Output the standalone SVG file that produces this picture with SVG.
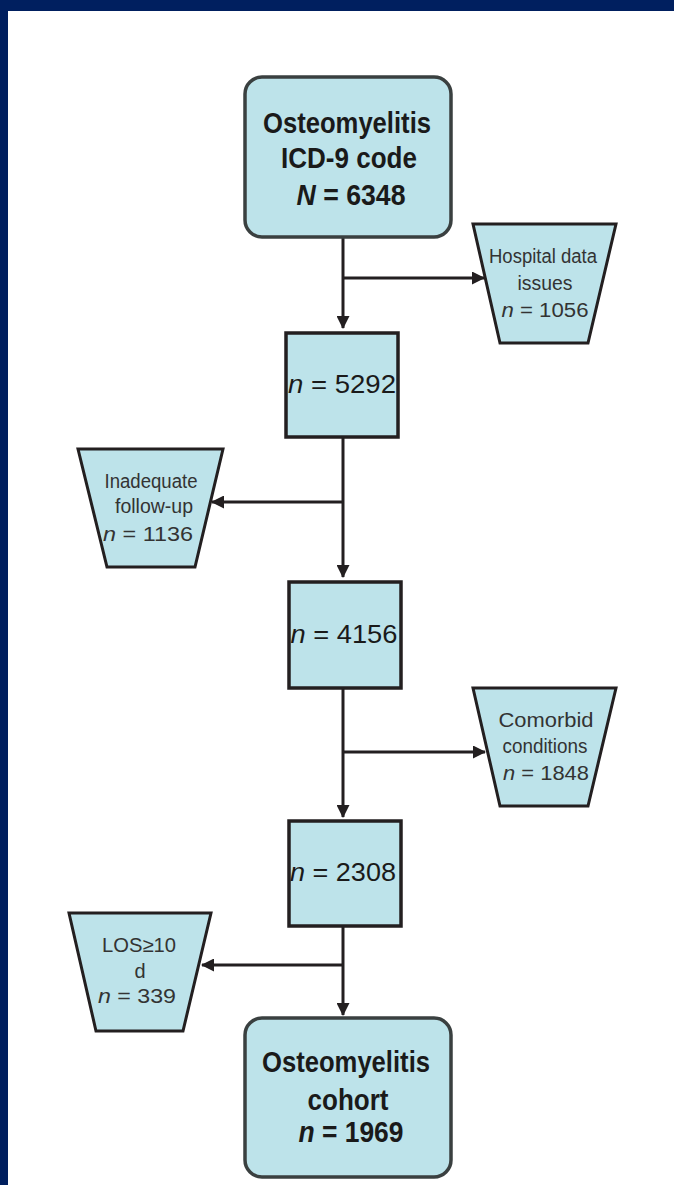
<svg xmlns="http://www.w3.org/2000/svg" width="674" height="1185" viewBox="0 0 674 1185">
<defs>
<marker id="arr" viewBox="0 0 13 13" refX="12" refY="6.5" markerWidth="13" markerHeight="13" markerUnits="userSpaceOnUse" orient="auto">
<path d="M0,0 L13,6.5 L0,13 Z" fill="#231f20"/>
</marker>
</defs>
<style>
.bg{fill:#ffffff}
.nav{fill:#001f5f}
.box{fill:#bde3ea;stroke:#231f20;stroke-width:3.5}
.rbox{fill:#bde3ea;stroke:#3a4040;stroke-width:3.5}
.trap{fill:#bde3ea;stroke:#231f20;stroke-width:3;stroke-linejoin:miter}
.ln{fill:none;stroke:#231f20;stroke-width:3}
.big{font-family:"Liberation Sans",Arial,sans-serif;font-size:29px;font-weight:bold;fill:#1a1a1a;text-anchor:middle}
.mid{font-family:"Liberation Sans",Arial,sans-serif;font-size:26px;fill:#1a1a1a;text-anchor:middle}
.sm{font-family:"Liberation Sans",Arial,sans-serif;font-size:20px;fill:#333333;text-anchor:middle}
.it{font-style:italic}
</style>
<rect class="bg" x="0" y="0" width="674" height="1185"/>
<rect class="nav" x="0" y="0" width="674" height="11"/>
<rect class="nav" x="0" y="0" width="8" height="1185"/>

<g id="connectors">
<line class="ln" x1="343" y1="237" x2="343" y2="328" marker-end="url(#arr)"/>
<line class="ln" x1="343" y1="278" x2="484" y2="278" marker-end="url(#arr)"/>
<line class="ln" x1="343" y1="437" x2="343" y2="577" marker-end="url(#arr)"/>
<line class="ln" x1="343" y1="502" x2="212" y2="502" marker-end="url(#arr)"/>
<line class="ln" x1="343" y1="688" x2="343" y2="817" marker-end="url(#arr)"/>
<line class="ln" x1="343" y1="752" x2="485" y2="752" marker-end="url(#arr)"/>
<line class="ln" x1="343" y1="926" x2="343" y2="1015" marker-end="url(#arr)"/>
<line class="ln" x1="343" y1="965" x2="202" y2="965" marker-end="url(#arr)"/>
</g>

<g id="node-start">
<rect class="rbox" x="245" y="77" width="206" height="160" rx="17" ry="17"/>
<text class="big" x="347" y="133" textLength="168" lengthAdjust="spacingAndGlyphs">Osteomyelitis</text>
<text class="big" x="349" y="168" textLength="136" lengthAdjust="spacingAndGlyphs">ICD-9 code</text>
<text class="big" x="351" y="205" textLength="109" lengthAdjust="spacingAndGlyphs"><tspan class="it">N</tspan> = 6348</text>
</g>

<g id="node-hospital">
<polygon class="trap" points="473,224 616,224 588,343 500,343"/>
<text class="sm" x="543" y="263" textLength="108" lengthAdjust="spacingAndGlyphs">Hospital data</text>
<text class="sm" x="545" y="290" textLength="55" lengthAdjust="spacingAndGlyphs">issues</text>
<text class="sm" x="545" y="317" textLength="87" lengthAdjust="spacingAndGlyphs"><tspan class="it">n</tspan> = 1056</text>
</g>

<g id="node-5292">
<rect class="box" x="286" y="333" width="112" height="104"/>
<text class="mid" x="342" y="393" textLength="108" lengthAdjust="spacingAndGlyphs"><tspan class="it">n</tspan> = 5292</text>
</g>

<g id="node-inadequate">
<polygon class="trap" points="78,449 223,449 195,567 107,567"/>
<text class="sm" x="151" y="488" textLength="93" lengthAdjust="spacingAndGlyphs">Inadequate</text>
<text class="sm" x="154" y="513" textLength="78" lengthAdjust="spacingAndGlyphs">follow-up</text>
<text class="sm" x="148" y="541" textLength="90" lengthAdjust="spacingAndGlyphs"><tspan class="it">n</tspan> = 1136</text>
</g>

<g id="node-4156">
<rect class="box" x="289" y="582" width="112" height="106"/>
<text class="mid" x="344" y="643" textLength="107" lengthAdjust="spacingAndGlyphs"><tspan class="it">n</tspan> = 4156</text>
</g>

<g id="node-comorbid">
<polygon class="trap" points="473,688 616,688 588,806 500,806"/>
<text class="sm" x="546" y="727" textLength="95" lengthAdjust="spacingAndGlyphs">Comorbid</text>
<text class="sm" x="545" y="753" textLength="85" lengthAdjust="spacingAndGlyphs">conditions</text>
<text class="sm" x="546" y="780" textLength="86" lengthAdjust="spacingAndGlyphs"><tspan class="it">n</tspan> = 1848</text>
</g>

<g id="node-2308">
<rect class="box" x="289" y="821" width="112" height="105"/>
<text class="mid" x="343" y="881" textLength="106" lengthAdjust="spacingAndGlyphs"><tspan class="it">n</tspan> = 2308</text>
</g>

<g id="node-los">
<polygon class="trap" points="69,913 211,913 183,1031 96,1031"/>
<text class="sm" x="139" y="952" textLength="74" lengthAdjust="spacingAndGlyphs">LOS≥10</text>
<text class="sm" x="140" y="978">d</text>
<text class="sm" x="137" y="1003" textLength="78" lengthAdjust="spacingAndGlyphs"><tspan class="it">n</tspan> = 339</text>
</g>

<g id="node-cohort">
<rect class="rbox" x="245" y="1018" width="206" height="159" rx="17" ry="17"/>
<text class="big" x="346" y="1072" textLength="168" lengthAdjust="spacingAndGlyphs">Osteomyelitis</text>
<text class="big" x="348" y="1110" textLength="81" lengthAdjust="spacingAndGlyphs">cohort</text>
<text class="big" x="351" y="1142" textLength="105" lengthAdjust="spacingAndGlyphs"><tspan class="it">n</tspan> = 1969</text>
</g>
</svg>
